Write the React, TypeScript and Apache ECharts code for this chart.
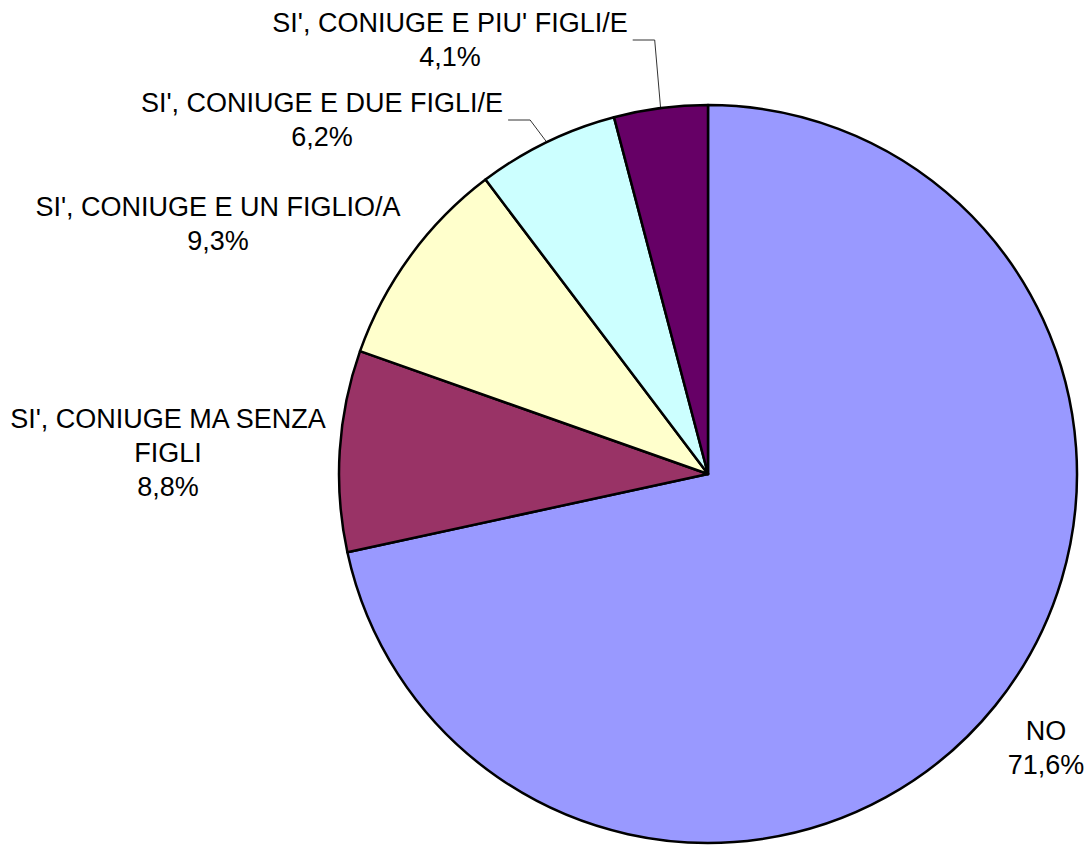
import React, { useEffect, useRef } from "react";
import * as echarts from "echarts";

const categories = [
  "NO",
  "SI', CONIUGE MA SENZA\nFIGLI",
  "SI', CONIUGE E UN FIGLIO/A",
  "SI', CONIUGE E DUE FIGLI/E",
  "SI', CONIUGE E PIU' FIGLI/E",
];
const values = [71.6, 8.8, 9.3, 6.2, 4.1];
const colors = ["#9999FF", "#993366", "#FFFFCC", "#CCFFFF", "#660066"];
const showLeader = [false, false, false, true, true];
const labelCenters: [number, number][] = [
  [1046, 748],
  [168, 453],
  [218, 224],
  [322, 120],
  [450, 40],
];

export default function App() {
  const ref = useRef<HTMLDivElement>(null);
  useEffect(() => {
    if (!ref.current) return;
    const chart = echarts.init(ref.current, null, { renderer: "svg" });
    chart.setOption({
      animation: false,
      backgroundColor: "#ffffff",
      series: [
        {
          type: "pie",
          center: [708, 474],
          radius: 369,
          startAngle: 90,
          clockwise: true,
          avoidLabelOverlap: false,
          itemStyle: { borderColor: "#000000", borderWidth: 2.5 },
          label: {
            show: true,
            position: "outside",
            color: "#000000",
            fontFamily: "'Liberation Sans', Arial, sans-serif",
            fontSize: 27,
            lineHeight: 34,
            align: "center",
            padding: [0, 5, 0, 5],
            formatter: (p: any) =>
              p.name + "\n" + p.value.toFixed(1).replace(".", ",") + "%",
          },
          labelLine: {
            show: true,
            length: 10,
            length2: 22,
            lineStyle: { color: "#333333", width: 1 },
          },
          labelLayout: (params: any) => {
            const c = labelCenters[params.dataIndex];
            return {
              x: c[0],
              y: c[1],
              align: "center",
              verticalAlign: "middle",
            };
          },
          data: categories.map((name, i) => ({
            name,
            value: values[i],
            itemStyle: { color: colors[i] },
            labelLine: {
              show: showLeader[i],
              length: 10,
              length2: 22,
              lineStyle: { color: "#333333", width: 1 },
            },
          })),
        },
      ],
    });
    return () => chart.dispose();
  }, []);
  return (
    <div
      ref={ref}
      style={{ position: "absolute", left: 0, top: 0, width: 1087, height: 845 }}
    />
  );
}
